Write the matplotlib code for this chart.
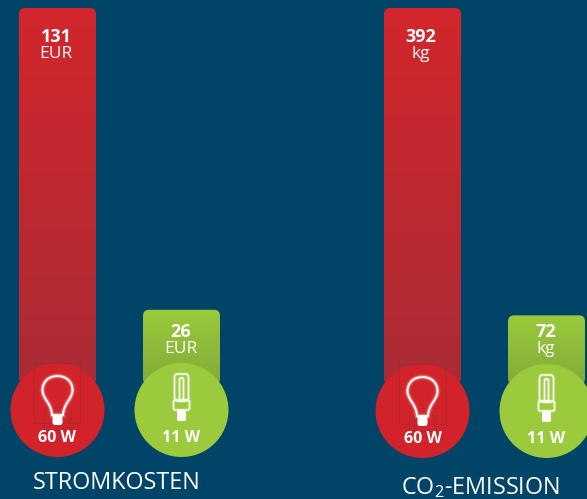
import numpy as np
import matplotlib
matplotlib.use("Agg")
import matplotlib.pyplot as plt
from matplotlib.patches import Circle, FancyBboxPatch, PathPatch, Rectangle
from matplotlib.path import Path
from matplotlib.colors import LinearSegmentedColormap

plt.rcParams['font.family'] = ['Open Sans', 'DejaVu Sans']
plt.rcParams['mathtext.default'] = 'regular'

# chart values
strom_values = [131, 26]
strom_unit = "EUR"
strom_title = "STROMKOSTEN"
co2_values = [392, 72]
co2_unit = "kg"
co2_title = "CO$_2$-EMISSION"
watt_labels = ["60 W", "11 W"]

W, H = 587, 499
BG = "#004567"
RED = "#d2232a"
GREEN = "#9bcb3c"
BASE_PX = 384.5
TOP_PX = 8.0
BAR_W = 77
RADIUS = 6

fig = plt.figure(figsize=(W / 100, H / 100), dpi=100, facecolor=BG)


def value_axes(vmax):
    # same pixel box for every group, y scale set so vmax reaches TOP_PX
    ax = fig.add_axes([0, 0, 1, 1], facecolor="none")
    k = (BASE_PX - TOP_PX) / vmax
    ax.set_xlim(0, W)
    ax.set_ylim(-(H - BASE_PX) / k, BASE_PX / k)
    ax.axis("off")
    return ax, k


def gradient_bar(ax, k, xc, value, top_col, bot_col):
    cmap = LinearSegmentedColormap.from_list("g", [top_col, bot_col])
    x0 = xc - BAR_W / 2
    # rounded top, the square bottom is hidden behind the circle
    patch = FancyBboxPatch((x0 + RADIUS, RADIUS / k), BAR_W - 2 * RADIUS, value - 2 * RADIUS / k,
                           boxstyle=f"round,pad={RADIUS},rounding_size={RADIUS}",
                           mutation_aspect=1 / k, linewidth=0, facecolor="none")
    ax.add_patch(patch)
    im = ax.imshow(np.linspace(0, 1, 256).reshape(-1, 1), cmap=cmap, aspect="auto",
                   extent=(x0, x0 + BAR_W, 0, value), origin="upper", zorder=1)
    im.set_clip_path(patch)
    ax.set_xlim(0, W)
    ax.set_ylim(-(H - BASE_PX) / k, BASE_PX / k)


px = fig.add_axes([0, 0, 1, 1], facecolor="none", zorder=5)
px.set_xlim(0, W)
px.set_ylim(H, 0)
px.axis("off")


def glow(patch_fn):
    for lw, a in [(6, 0.10), (4, 0.18), (2.6, 0.35), (1.7, 1.0)]:
        px.add_patch(patch_fn(lw, a))


def incandescent(cx, cy):
    # cx, cy = middle of the globe
    v = [(0, -14), (9, -14), (15, -8), (15, 0), (15, 9), (6, 13), (5.5, 25),
         (-5.5, 25), (-6, 13), (-15, 9), (-15, 0), (-15, -8), (-9, -14), (0, -14)]
    c = [Path.MOVETO, Path.CURVE4, Path.CURVE4, Path.CURVE4, Path.CURVE4, Path.CURVE4, Path.CURVE4,
         Path.LINETO, Path.CURVE4, Path.CURVE4, Path.CURVE4, Path.CURVE4, Path.CURVE4, Path.CURVE4]
    p = Path([(cx + a, cy + b) for a, b in v], c)
    # stray guide lines from the source artwork
    for x0, y0, w, h in [(-24, -27, 46, 60), (-13.5, 17, 27, 23), (-9, 24, 20, 16)]:
        px.add_patch(Rectangle((cx + x0, cy + y0), w, h, fc="none", ec="#8a2b35", lw=0.4, alpha=0.7))
    glow(lambda lw, a: PathPatch(p, fc="none", ec="white", lw=lw * 0.72, alpha=a))
    px.add_patch(FancyBboxPatch((cx - 5, cy + 24), 10, 11, boxstyle="round,pad=0,rounding_size=2.5",
                                fc="white", ec="none"))


def cfl(cx, cy):
    glow(lambda lw, a: FancyBboxPatch((cx - 7, cy - 33), 14, 27, boxstyle="round,pad=0,rounding_size=3",
                                      fc="none", ec="white", lw=lw * 0.5, alpha=a))
    glow(lambda lw, a: FancyBboxPatch((cx - 2, cy - 29), 4, 23, boxstyle="round,pad=0,rounding_size=1.5",
                                      fc="none", ec="white", lw=lw * 0.5, alpha=a))
    glow(lambda lw, a: FancyBboxPatch((cx - 8, cy - 7), 16, 10, boxstyle="round,pad=0,rounding_size=2",
                                      fc="none", ec="white", lw=lw * 0.5, alpha=a))
    px.add_patch(FancyBboxPatch((cx - 4.5, cy + 3), 9, 11, boxstyle="round,pad=0,rounding_size=1.5",
                                fc="white", ec="none"))


def group(values, unit, title, x_red, x_green, cy, title_x, title_y):
    ax, k = value_axes(max(values))
    gradient_bar(ax, k, x_red, values[0], "#d2262c", "#ab2c35")
    gradient_bar(ax, k, x_green, values[1], "#9aca3c", "#83aa38")

    for xc, col, val, lab, tx, ty in zip((x_red, x_green), (RED, GREEN), values, watt_labels,
                                         (x_red - 1.5, x_green - 0.5), (37, 332)):
        px.text(tx, ty, str(val), color="white", fontsize=13, fontweight="bold",
                ha="center", va="center")
        px.text(tx, ty + 17, unit, color="white", fontsize=12.5, ha="center", va="center")
        px.add_patch(Circle((xc, cy), 47, fc=col, ec="none"))
        px.text(xc, cy + 28, lab, color="white", fontsize=11.5, fontweight="bold",
                ha="center", va="center", zorder=6)
    incandescent(x_red, cy - 20)
    cfl(x_green, cy - 3)
    px.text(title_x, title_y, title, color="white", fontsize=16.8, ha="center", va="baseline")


group(strom_values, strom_unit, strom_title, 57.5, 181.5, 410, 117, 489)
group(co2_values, co2_unit, co2_title, 422.5, 546.5, 411, 480, 494)

fig.savefig("out.png", dpi=100, facecolor=BG)
plt.close(fig)
